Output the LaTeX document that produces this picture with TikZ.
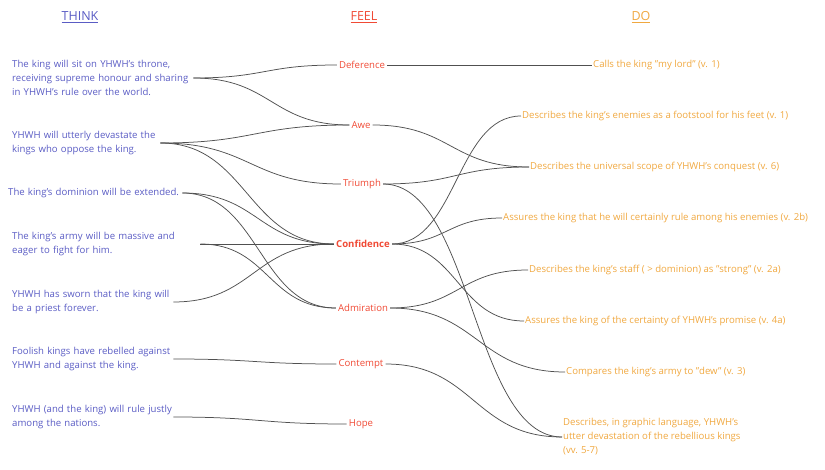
\documentclass[tikz,border=0pt]{standalone}
\usepackage{fontspec}
\setmainfont{Open Sans}
\usetikzlibrary{calc}

\definecolor{thinkcol}{HTML}{5A5CC4}
\definecolor{feelcol}{HTML}{F04A35}
\definecolor{docol}{HTML}{F0A840}
\definecolor{linkcol}{HTML}{505050}

\begin{document}
\begin{tikzpicture}[x=1pt,y=-1pt,
    think/.style={anchor=west, align=left, inner sep=0pt, text=thinkcol, font=\fontsize{9.6}{14}\selectfont},
    feel/.style={inner sep=2pt, text=feelcol, font=\fontsize{9.6}{14}\selectfont},
    doit/.style={anchor=west, align=left, inner sep=1pt, text=docol, font=\fontsize{9.6}{14}\selectfont},
    head/.style={font=\fontsize{12.5}{14}\selectfont},
    link/.style={draw=linkcol, line width=0.75pt,
      to path={let \p1=(\tikztostart), \p2=(\tikztotarget) in
        .. controls ({0.5*\x1+0.5*\x2},\y1) and ({0.5*\x1+0.5*\x2},\y2) .. (\tikztotarget)}}]
    \useasboundingbox (0,0) rectangle (825,470);

    \node[head, text=thinkcol] (thinkhead) at (80,17) {\underline{THINK}};
    \node[head, text=feelcol] (feelhead) at (364,17) {\underline{FEEL}};
    \node[head, text=docol] (dohead) at (641,17) {\underline{DO}};

    \node[think, text width=181pt] (t1) at (12,78) {The king will sit on YHWH's throne,\\receiving supreme honour and sharing\\in YHWH's rule over the world.};
    \node[think, text width=148pt] (t2) at (12,143) {YHWH will utterly devastate the\\kings who oppose the king.};
    \node[think, text width=174pt] (t3) at (8,193) {The king's dominion will be extended.};
    \node[think, text width=188pt] (t4) at (12,244) {The king's army will be massive and\\eager to fight for him.};
    \node[think, text width=161pt] (t5) at (12,302) {YHWH has sworn that the king will\\be a priest forever.};
    \node[think, text width=161pt] (t6) at (12,359) {Foolish kings have rebelled against\\YHWH and against the king.};
    \node[think, text width=161pt] (t7) at (12,417) {YHWH (and the king) will rule justly\\among the nations.};

    \node[feel] (deference) at (362,65) {Deference};
    \node[feel] (awe) at (361,125) {Awe};
    \node[feel] (triumph) at (362,184) {Triumph};
    \node[feel, font=\fontsize{9.6}{14}\selectfont\bfseries] (confidence) at (363,244) {Confidence};
    \node[feel] (admiration) at (363,308) {Admiration};
    \node[feel] (contempt) at (361,364) {Contempt};
    \node[feel] (hope) at (361,424) {Hope};

    \node[doit] (d1) at (592,65) {Calls the king "my lord" (v. 1)};
    \node[doit] (d2) at (521,116) {Describes the king's enemies as a footstool for his feet (v. 1)};
    \node[doit] (d3) at (529,167) {Describes the universal scope of YHWH's conquest (v. 6)};
    \node[doit] (d4) at (502,218) {Assures the king that he will certainly rule among his enemies (v. 2b)};
    \node[doit] (d5) at (528,270) {Describes the king's staff ( > dominion) as "strong" (v. 2a)};
    \node[doit] (d6) at (524,321) {Assures the king of the certainty of YHWH's promise (v. 4a)};
    \node[doit] (d7) at (565,372) {Compares the king's army to "dew" (v. 3)};
    \node[doit] (d8) at (562,437) {Describes, in graphic language, YHWH's\\utter devastation of the rebellious kings\\(vv. 5-7)};

    % think -> feel
    \foreach \a/\b in {t1/deference, t1/awe, t2/awe, t2/triumph, t2/confidence,
        t3/confidence, t3/admiration, t4/confidence, t4/admiration, t5/confidence,
        t6/contempt, t7/hope}
      \draw[link] (\a.east) to (\b.west);

    % feel -> do
    \foreach \a/\b in {deference/d1, awe/d3, triumph/d3, triumph/d8, confidence/d2,
        confidence/d4, confidence/d6, admiration/d5, admiration/d7, contempt/d8}
      \draw[link] (\a.east) to (\b.west);
\end{tikzpicture}
\end{document}
